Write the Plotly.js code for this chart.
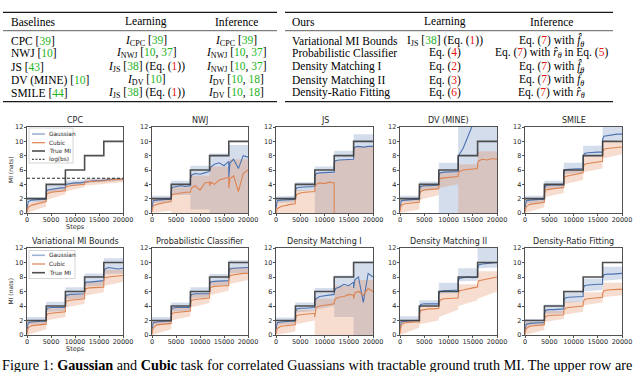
<!DOCTYPE html>
<html><head><meta charset="utf-8">
<script src="https://cdn.plot.ly/plotly-3.0.1.min.js"></script>
<style>html,body{margin:0;padding:0;background:#fff}#chart{width:640px;height:372px}</style>
</head><body><div id="chart"></div>
<script>
// ---------- data ----------
const steps = [0,250,1000,2000,3000,3990, 4000,4250,5000,6000,7000,7990, 8000,8250,9000,10000,11000,11990, 12000,12250,13000,14000,15000,15990, 16000,16250,17000,18000,19000,20000];
const bandSteps = [0,3990, 4000,7990, 8000,11990, 12000,15990, 16000,20000];
const trueSteps = [0,4000,8000,12000,16000,20000];
const trueMI = [2,4,6,8,10,10];
const logBS = 4.85;
const xTickVals = [0,5000,10000,15000,20000];
const xTickText = ['0','5000','10000','15000','20000'];
const yTickVals = [0,2,4,6,8,10,12];
const panelTitles = ['CPC','NWJ','JS','DV (MINE)','SMILE','Variational MI Bounds','Probabilistic Classifier','Density Matching I','Density Matching II','Density-Ratio Fitting'];

// CPC
const cpcGauss = [0.5,1.6,1.8,1.9,1.9,1.9, 2.9,3.2,3.3,3.4,3.5,3.5, 3.9,4.0,4.1,4.2,4.2,4.3, 4.4,4.4,4.5,4.5,4.5,4.6, 4.6,4.6,4.7,4.7,4.7,4.7];
const cpcCubic = [0.1,0.8,1.1,1.3,1.5,1.6, 2.3,2.7,2.9,3.0,3.1,3.1, 3.5,3.7,3.8,3.9,4.0,4.0, 4.2,4.3,4.4,4.4,4.5,4.5, 4.5,4.5,4.6,4.6,4.7,4.7];
const cpcGaussLo = [1.4,1.6, 2.8,3.1, 3.8,4.0, 4.2,4.3, 4.4,4.5];
const cpcGaussHi = [2.2,2.2, 3.9,3.9, 4.5,4.6, 4.8,4.8, 4.9,4.9];
const cpcCubicLo = [0,0.9, 1.8,2.6, 3.0,3.6, 3.8,4.1, 4.0,4.3];
const cpcCubicHi = [1.3,2.0, 3.2,3.5, 4.2,4.4, 4.7,4.7, 4.9,4.9];
// NWJ
const nwjGauss = [0.6,1.7,1.8,1.9,1.9,1.9, 3.2,3.6,3.7,3.8,3.7,3.8, 4.8,5.3,5.5,5.4,5.6,5.7, 5.8,6.4,6.8,7.0,6.6,7.2, 5.0,7.0,7.5,6.2,8.0,7.8];
const nwjCubic = [0.2,1.0,1.2,1.4,1.5,1.6, 2.2,2.6,2.7,2.8,2.9,2.9, 3.0,3.5,3.8,3.2,4.2,4.3, 3.8,4.3,4.0,4.6,4.8,5.0, 3.5,4.8,5.2,3.0,5.5,6.0];
const nwjGaussLo = [1.4,1.5, 2.5,2.5, 0.5,0.5, 0,0, 0,0];
const nwjGaussHi = [2.4,2.4, 4.5,4.5, 6.6,6.6, 8.3,8.3, 9.5,9.5];
const nwjCubicLo = [0,0.3, 0,0, 0,0, 0,0, 0,0];
const nwjCubicHi = [2.0,2.0, 3.6,3.6, 5.2,5.2, 6.5,6.5, 7.5,7.5];
// JS
const jsGauss = [0.6,1.7,1.8,1.8,1.8,1.9, 3.2,3.5,3.6,3.6,3.6,3.7, 5.0,5.5,5.6,5.6,5.6,5.7, 7.0,7.3,7.4,7.4,7.5,7.5, 8.8,9.2,9.3,9.2,9.3,9.3];
const jsCubic = [0.0,0.6,0.9,1.1,1.2,1.3, 2.0,2.6,2.8,2.9,3.0,3.0, 3.6,4.0,4.2,4.1,4.3,4.2, -3,-3,-3,-3,-3,-3, -3,-3,-3,-3,-3,-3];
const jsGaussLo = [1.4,1.5, 3.0,3.2, -1,-1, -1,-1, -1,-1];
const jsGaussHi = [2.3,2.4, 4.3,4.3, 6.5,6.5, 8.7,8.7, 11.0,11.0];
const jsCubicLo = [0,0, 0,0, 0,0, -5,-5, -5,-5];
const jsCubicHi = [1.6,1.8, 3.2,3.2, 5.5,5.5, 7.4,7.4, 9.2,9.2];
// DV (MINE)
const dvGauss = [0.6,1.7,1.8,1.9,1.9,1.9, 3.3,3.7,3.8,3.8,3.8,3.9, 5.2,5.6,5.7,5.7,5.8,5.8, 7.8,8.2,9.0,10.8,13,14, 14,14,14,14,14,14];
const dvCubic = [0.2,1.1,1.3,1.4,1.5,1.5, 2.5,3.0,3.2,3.3,3.3,3.4, 4.4,4.8,4.9,5.0,5.1,5.1, 5.5,5.8,6.0,6.1,6.2,6.2, 7.0,7.3,7.5,7.4,7.6,7.5];
const dvGaussLo = [1.5,1.6, 3.0,3.3, 0,0, -1,-1, -1,-1];
const dvGaussHi = [2.4,2.4, 4.4,4.4, 7.0,7.0, 14,14, 14,14];
const dvCubicLo = [0,0.5, 1.8,2.5, 3.5,4.0, -1,-1, -1,-1];
const dvCubicHi = [1.9,1.9, 3.8,3.8, 5.8,5.8, 6.8,6.8, 8.6,8.6];
// SMILE
const smileGauss = [0.6,1.7,1.8,1.9,1.9,1.9, 3.4,3.8,3.9,3.9,3.9,3.9, 5.6,6.0,6.1,6.1,6.1,6.2, 7.9,8.3,8.4,8.5,8.5,8.5, 10.3,10.7,10.8,10.9,11.0,11.0];
const smileCubic = [0.1,0.9,1.2,1.3,1.4,1.5, 2.6,3.2,3.3,3.4,3.5,3.6, 4.6,5.1,5.2,5.3,5.4,5.6, 6.3,6.8,6.9,7.0,7.1,7.2, 8.4,8.9,9.0,9.1,9.1,9.2];
const smileGaussLo = [1.3,1.5, 3.3,3.4, 5.4,5.6, 7.8,7.9, 10.0,10.2];
const smileGaussHi = [2.4,2.4, 4.5,4.5, 7.0,7.0, 9.4,9.4, 12,12];
const smileCubicLo = [0,0.8, 2.2,2.8, 4.0,4.6, 5.7,6.2, 7.6,8.2];
const smileCubicHi = [2.0,2.0, 4.0,4.0, 6.0,6.0, 7.9,7.9, 9.9,9.9];
// Variational MI Bounds
const vmiGauss = [0.6,1.7,1.8,1.9,1.9,1.9, 3.3,3.7,3.8,3.8,3.8,3.8, 5.2,5.5,5.6,5.6,5.7,5.7, 6.9,7.3,7.3,7.4,7.4,7.5, 8.6,9.1,9.3,9.2,9.1,9.2];
const vmiCubic = [0.1,1.0,1.3,1.4,1.5,1.5, 2.5,2.9,3.0,3.1,3.1,3.2, 4.3,4.7,4.8,4.9,5.0,5.0, 6.0,6.4,6.5,6.5,6.6,6.6, 7.5,7.9,8.0,8.1,8.1,8.2];
const vmiGaussLo = [1.4,1.5, 3.2,3.3, 4.9,5.1, 6.7,6.8, 8.4,8.5];
const vmiGaussHi = [2.5,2.5, 4.6,4.6, 6.6,6.6, 8.5,8.5, 10.6,10.6];
const vmiCubicLo = [0,0.8, 2.0,2.5, 3.8,4.3, 5.4,5.9, 6.8,7.3];
const vmiCubicHi = [1.9,1.9, 3.7,3.7, 5.6,5.6, 7.3,7.3, 9.0,9.0];
// Probabilistic Classifier
const pcGauss = [0.6,1.7,1.8,1.9,1.9,1.9, 3.3,3.7,3.8,3.8,3.8,3.8, 5.3,5.6,5.7,5.7,5.7,5.7, 7.0,7.3,7.4,7.4,7.5,7.5, 8.7,9.1,9.2,9.2,9.3,9.3];
const pcCubic = [0.1,1.0,1.4,1.5,1.5,1.6, 2.6,3.0,3.1,3.2,3.2,3.3, 4.3,4.8,4.9,5.0,5.1,5.1, 6.1,6.6,6.7,6.8,6.8,6.8, 7.6,8.2,8.3,8.4,8.5,8.5];
const pcGaussLo = [1.4,1.5, 3.2,3.3, 5.0,5.2, 6.8,6.9, 8.5,8.6];
const pcGaussHi = [2.5,2.5, 4.5,4.5, 6.6,6.6, 8.4,8.4, 10.3,10.3];
const pcCubicLo = [0,0.8, 2.0,2.6, 3.8,4.4, 5.5,6.1, 7.0,7.6];
const pcCubicHi = [2.0,2.0, 3.8,3.8, 5.7,5.7, 7.5,7.5, 9.3,9.3];
// Density Matching I
const dm1Gauss = [0.6,1.7,1.8,1.9,1.9,1.9, 3.2,3.6,3.7,3.7,3.8,3.8, 4.6,5.0,5.3,5.4,5.5,5.6, 5.8,6.4,6.6,7.0,6.8,7.3, 6.5,7.6,8.0,4.5,8.5,8.0];
const dm1Cubic = [0.1,0.9,1.2,1.3,1.4,1.4, 2.2,2.7,2.8,2.9,3.0,3.0, 2.5,3.8,4.0,4.1,4.2,4.3, 4.5,5.0,5.2,5.3,5.6,5.5, 5.0,5.8,6.0,5.5,6.4,6.0];
const dm1GaussLo = [1.4,1.5, 3.1,3.3, 3.5,4.0, 2.5,2.5, 0,0];
const dm1GaussHi = [2.4,2.4, 4.5,4.5, 6.5,6.5, 8.2,8.2, 10.2,10.2];
const dm1CubicLo = [0,0.5, 1.5,2.0, 0,0, 0,0, 0,0];
const dm1CubicHi = [1.8,1.8, 3.5,3.5, 5.0,5.0, 6.8,6.8, 7.6,7.6];
// Density Matching II
const dm2Gauss = [0.6,1.8,1.9,2.0,2.0,2.0, 3.8,4.2,4.3,4.3,4.3,4.3, 5.6,6.0,6.1,6.1,6.1,6.2, 7.4,7.8,7.9,8.0,7.9,8.0, 9.2,9.7,9.8,9.9,10.0,10.0];
const dm2Cubic = [0.2,1.4,1.7,1.8,1.8,1.8, 2.9,3.4,3.5,3.6,3.6,3.7, 4.2,4.8,5.0,5.0,5.1,5.1, 5.6,6.1,6.2,6.4,6.5,6.6, 7.0,7.5,7.6,7.8,7.9,8.0];
const dm2GaussLo = [1.6,1.8, 3.9,4.0, 5.7,5.8, 7.4,7.5, 9.2,9.3];
const dm2GaussHi = [2.6,2.6, 4.8,4.8, 7.2,7.2, 9.2,9.2, 12,12];
const dm2CubicLo = [0,1.0, 1.5,2.0, 2.5,3.5, 4.0,4.8, 5.0,6.0];
const dm2CubicHi = [2.1,2.1, 4.0,4.0, 5.8,5.8, 7.0,7.0, 8.8,8.8];
// Density-Ratio Fitting
const drfGauss = [0.5,1.5,1.6,1.7,1.7,1.7, 3.0,3.4,3.5,3.5,3.6,3.6, 4.7,5.1,5.2,5.2,5.3,5.3, 6.3,6.8,6.9,7.0,7.0,7.0, 7.9,8.3,8.4,8.4,8.5,8.5];
const drfCubic = [0.1,0.9,1.2,1.3,1.4,1.4, 2.2,2.6,2.7,2.7,2.8,2.8, 3.3,3.7,3.8,3.9,3.9,4.0, 4.5,4.9,5.0,5.1,5.1,5.2, 5.7,6.1,6.2,6.3,6.3,6.3];
const drfGaussLo = [1.2,1.3, 2.9,3.0, 4.4,4.6, 6.0,6.2, 7.5,7.7];
const drfGaussHi = [2.2,2.2, 4.2,4.2, 6.0,6.0, 7.8,7.8, 9.4,9.4];
const drfCubicLo = [0,0.7, 1.8,2.2, 2.8,3.2, 4.1,4.5, 5.2,5.5];
const drfCubicHi = [1.8,1.8, 3.3,3.3, 4.6,4.6, 5.9,5.9, 7.2,7.2];

// table text
const leftHeader = ['Baselines','Learning','Inference'];
const leftRowNames = ['CPC [<G>39</G>]','NWJ [<G>10</G>]','JS [<G>43</G>]','DV (MINE) [<G>10</G>]','SMILE [<G>44</G>]'];
const leftLearning = ['<i>I</i><sub>CPC</sub> [<G>39</G>]','<i>I</i><sub>NWJ</sub> [<G>10</G>, <G>37</G>]','<i>I</i><sub>JS</sub> [<G>38</G>] (Eq. (<R>1</R>))','<i>I</i><sub>DV</sub> [<G>10</G>]','<i>I</i><sub>JS</sub> [<G>38</G>] (Eq. (<R>1</R>))'];
const leftInference = ['<i>I</i><sub>CPC</sub> [<G>39</G>]','<i>I</i><sub>NWJ</sub> [<G>10</G>, <G>37</G>]','<i>I</i><sub>NWJ</sub> [<G>10</G>, <G>37</G>]','<i>I</i><sub>DV</sub> [<G>10</G>, <G>18</G>]','<i>I</i><sub>DV</sub> [<G>10</G>, <G>18</G>]'];
const rightHeader = ['Ours','Learning','Inference'];
const rightRowNames = ['Variational MI Bounds','Probabilistic Classifier','Density Matching I','Density Matching II','Density-Ratio Fitting'];
const rightLearning = ['I<sub>JS</sub> [<G>38</G>] (Eq. (<R>1</R>))','Eq. (<R>4</R>)','Eq. (<R>2</R>)','Eq. (<R>3</R>)','Eq. (<R>6</R>)'];
const rightInference = ['Eq. (<R>7</R>) with <i>f\u0302</i><sub><i>θ</i></sub>','Eq. (<R>7</R>) with <i>r\u0302</i><sub><i>θ</i></sub> in Eq. (<R>5</R>)','Eq. (<R>7</R>) with <i>f\u0302</i><sub><i>θ</i></sub>','Eq. (<R>7</R>) with <i>f\u0302</i><sub><i>θ</i></sub>','Eq. (<R>7</R>) with <i>r\u0302</i><sub><i>θ</i></sub>'];
const caption = 'Figure 1: <b>Gaussian</b> and <b>Cubic</b> task for correlated Guassians with tractable ground truth MI. The upper row are';

// ---------- build ----------
const panels = [
 [cpcGauss,cpcCubic,cpcGaussLo,cpcGaussHi,cpcCubicLo,cpcCubicHi],
 [nwjGauss,nwjCubic,nwjGaussLo,nwjGaussHi,nwjCubicLo,nwjCubicHi],
 [jsGauss,jsCubic,jsGaussLo,jsGaussHi,jsCubicLo,jsCubicHi],
 [dvGauss,dvCubic,dvGaussLo,dvGaussHi,dvCubicLo,dvCubicHi],
 [smileGauss,smileCubic,smileGaussLo,smileGaussHi,smileCubicLo,smileCubicHi],
 [vmiGauss,vmiCubic,vmiGaussLo,vmiGaussHi,vmiCubicLo,vmiCubicHi],
 [pcGauss,pcCubic,pcGaussLo,pcGaussHi,pcCubicLo,pcCubicHi],
 [dm1Gauss,dm1Cubic,dm1GaussLo,dm1GaussHi,dm1CubicLo,dm1CubicHi],
 [dm2Gauss,dm2Cubic,dm2GaussLo,dm2GaussHi,dm2CubicLo,dm2CubicHi],
 [drfGauss,drfCubic,drfGaussLo,drfGaussHi,drfCubicLo,drfCubicHi]
];
const W = 640, H = 372;
const PX = v => v / W, PY = v => 1 - v / H;
const colLeft = [27,152,276,400,525], colRight = [123,248,373,497,622];
const rowTop = [127,248], rowBot = [213,335];
const BLUE = '#4c72b0', ORANGE = '#dd8452';
const BLUE_BAND = 'rgba(76,114,176,0.24)', ORANGE_BAND = 'rgba(221,132,82,0.28)';
const TRUE_C = 'rgba(60,60,60,0.9)';
const fmt = s => s.replace(/<G>/g,'<span style="color:#1db31d">').replace(/<\/G>/g,'</span>')
                  .replace(/<R>/g,'<span style="color:#e81414">').replace(/<\/R>/g,'</span>');
const poly = (xs, lo, hi) => ({x: xs.concat(xs.slice().reverse()), y: hi.concat(lo.slice().reverse())});

const traces = [], layout = {
  width: W, height: H, margin:{l:0,r:0,t:0,b:0}, showlegend:false,
  paper_bgcolor:'#fff', plot_bgcolor:'#fff', annotations:[], shapes:[],
  font:{family:'DejaVu Sans', color:'#262626'}
};
panels.forEach((p, i) => {
  const row = i < 5 ? 0 : 1, col = i % 5;
  const xa = i === 0 ? 'x' : 'x' + (i+1), ya = i === 0 ? 'y' : 'y' + (i+1);
  const axKey = i === 0 ? '' : String(i+1);
  const common = {showgrid:false, zeroline:false, showline:true, mirror:true, linecolor:'#262626', linewidth:0.8,
    ticks:'outside', ticklen:2.5, tickwidth:0.8, tickcolor:'#262626', tickfont:{family:'DejaVu Sans', size:6.5, color:'#262626'}, fixedrange:true};
  layout['xaxis'+axKey] = Object.assign({}, common, {domain:[PX(colLeft[col]), PX(colRight[col])], anchor: ya, range:[0,20000],
    tickmode:'array', tickvals:xTickVals, ticktext:xTickText, ticklabelstandoff:-2});
  layout['yaxis'+axKey] = Object.assign({}, common, {domain:[PY(rowBot[row]), PY(rowTop[row])], anchor: xa, range:[0,12],
    tickmode:'array', tickvals:yTickVals, ticktext:yTickVals.map(String), ticklabelstandoff:-1});
  const gb = poly(bandSteps, p[2], p[3]), cb = poly(bandSteps, p[4], p[5]);
  traces.push({type:'scatter', mode:'lines', x:gb.x, y:gb.y, xaxis:xa, yaxis:ya, fill:'toself', fillcolor:BLUE_BAND, line:{width:0}, hoverinfo:'skip'});
  traces.push({type:'scatter', mode:'lines', x:cb.x, y:cb.y, xaxis:xa, yaxis:ya, fill:'toself', fillcolor:ORANGE_BAND, line:{width:0}, hoverinfo:'skip'});
  traces.push({type:'scatter', mode:'lines', x:steps, y:p[0], xaxis:xa, yaxis:ya, line:{color:BLUE, width:1.1}, name:'Gaussian'});
  traces.push({type:'scatter', mode:'lines', x:steps, y:p[1], xaxis:xa, yaxis:ya, line:{color:ORANGE, width:1.1}, name:'Cubic'});
  traces.push({type:'scatter', mode:'lines', x:trueSteps, y:trueMI, xaxis:xa, yaxis:ya, line:{color:TRUE_C, width:1.6, shape:'hv'}, name:'True MI'});
  if (i === 0) traces.push({type:'scatter', mode:'lines', x:[0,20000], y:[logBS,logBS], xaxis:xa, yaxis:ya, line:{color:'#111', width:0.9, dash:'3px,2px'}, name:'log(bs)'});
  layout.annotations.push({text:panelTitles[i], xref:xa+' domain', yref:ya+' domain', x:0.5, y:1, xanchor:'center', yanchor:'bottom', yshift:0,
    showarrow:false, font:{family:'DejaVu Sans', size:8, color:'#262626'}});
  if (col === 0) {
    layout.annotations.push({text:'Steps', xref:xa+' domain', yref:ya+' domain', x:0.5, y:-0.165, xanchor:'center', yanchor:'middle',
      showarrow:false, font:{family:'DejaVu Sans', size:6.5, color:'#262626'}});
    layout.annotations.push({text:'MI (nats)', xref:'paper', yref:ya+' domain', x:PX(10), y:0.5, xanchor:'center', yanchor:'middle', textangle:-90,
      showarrow:false, font:{family:'DejaVu Sans', size:6, color:'#262626'}});
  }
});

// manual legends
function legend(box, items) {
  layout.shapes.push({type:'rect', xref:'paper', yref:'paper', x0:PX(box[0]), x1:PX(box[2]), y0:PY(box[3]), y1:PY(box[1]),
    line:{color:'#cccccc', width:0.8}, fillcolor:'rgba(255,255,255,0.85)', layer:'above'});
  items.forEach(it => {
    layout.shapes.push({type:'line', xref:'paper', yref:'paper', x0:PX(box[0]+3), x1:PX(box[0]+16), y0:PY(it.y), y1:PY(it.y),
      line:{color:it.c, width:it.w, dash:it.d || 'solid'}, layer:'above'});
    layout.annotations.push({text:it.t, xref:'paper', yref:'paper', x:PX(box[0]+18), y:PY(it.y), xanchor:'left', yanchor:'middle',
      showarrow:false, font:{family:'DejaVu Sans', size:5.8, color:'#262626'}});
  });
}
legend([29,128,73,163], [
  {t:'Gaussian', y:134, c:'rgba(76,114,176,0.55)', w:1.6},
  {t:'Cubic', y:142.7, c:ORANGE, w:1.2},
  {t:'True MI', y:151, c:TRUE_C, w:1.6},
  {t:'log(bs)', y:159.3, c:'#111', w:0.9, d:'2px,1.5px'}
]);
legend([29,250.5,75,278.5], [
  {t:'Gaussian', y:255.3, c:'rgba(76,114,176,0.55)', w:1.6},
  {t:'Cubic', y:264, c:ORANGE, w:1.2},
  {t:'True MI', y:272.7, c:TRUE_C, w:1.6}
]);

// tables
const TF = {family:'Liberation Serif', size:11.5, color:'#000'};
function tableText(t, x, y, anchor) {
  layout.annotations.push({text:fmt(t), xref:'paper', yref:'paper', x:PX(x), y:PY(y), xanchor:anchor, yanchor:'middle', showarrow:false, font:TF, borderpad:0});
}
function rule(x0, x1, y, w) {
  layout.shapes.push({type:'line', xref:'paper', yref:'paper', x0:PX(x0), x1:PX(x1), y0:PY(y), y1:PY(y), line:{color:'#1a1a1a', width:w}});
}
const rowY = [40.7,53,66.7,80,92.8];
rule(3,277,12.3,1.2); rule(3,277,30.7,0.7); rule(3,277,101.7,1.3);
rule(285,613,12.3,1.2); rule(285,613,30.7,0.7); rule(285,613,101.7,1.3);
tableText(leftHeader[0], 10, 21.7, 'left');
tableText(leftHeader[1], 146, 21.7, 'center');
tableText(leftHeader[2], 236, 21.7, 'center');
tableText(rightHeader[0], 291, 21.7, 'left');
tableText(rightHeader[1], 445, 21.7, 'center');
tableText(rightHeader[2], 551, 21.7, 'center');
rowY.forEach((y, r) => {
  tableText(leftRowNames[r], 10, y, 'left');
  tableText(leftLearning[r], 146, y, 'center');
  tableText(leftInference[r], 236, y, 'center');
  tableText(rightRowNames[r], 291, y, 'left');
  tableText(rightLearning[r], 445, y, 'center');
  tableText(rightInference[r], 551, y, 'center');
});
layout.annotations.push({text:caption, xref:'paper', yref:'paper', x:PX(1), y:PY(365), xanchor:'left', yanchor:'middle', showarrow:false,
  font:{family:'Liberation Serif', size:14.2, color:'#000'}, borderpad:0});

Plotly.newPlot('chart', traces, layout, {displayModeBar:false, staticPlot:true});
</script>
</body></html>
